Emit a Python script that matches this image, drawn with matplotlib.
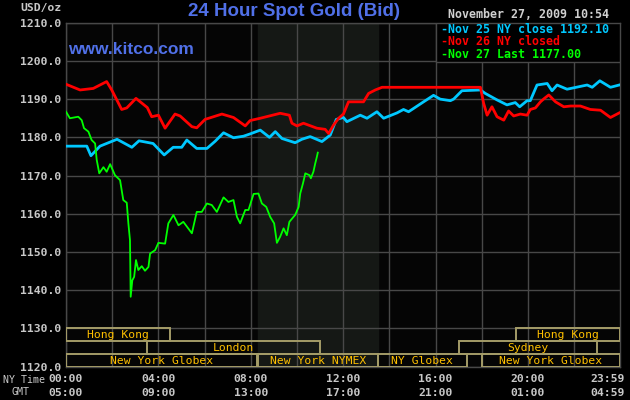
import matplotlib
matplotlib.use("Agg")
import matplotlib.pyplot as plt
from matplotlib.patches import Rectangle
from matplotlib.transforms import blended_transform_factory, offset_copy
import numpy as np

# hours after midnight NY time, price in USD/oz
nov25_hours = [0.0, 0.90, 1.08, 1.47, 2.21, 2.85, 3.16, 3.77, 4.25, 4.64, 5.01, 5.23, 5.66, 6.10,
               6.46, 6.82, 7.25, 7.68, 7.97, 8.41, 8.81, 9.06, 9.35, 9.92, 10.21, 10.57, 11.08,
               11.44, 11.70, 12.01, 12.16, 12.74, 13.03, 13.46, 13.75, 14.33, 14.61, 14.83, 15.48,
               15.91, 16.20, 16.64, 16.78, 17.14, 17.94, 18.15, 18.66, 19.09, 19.45, 19.64, 19.96,
               20.10, 20.39, 20.83, 21.04, 21.26, 21.69, 22.56, 22.78, 23.11, 23.57, 23.95]
nov25_price = [1177.7, 1177.7, 1175.2, 1177.7, 1179.5, 1177.4, 1179.1, 1178.4, 1175.4, 1177.4,
               1177.4, 1179.3, 1177.1, 1177.1, 1179.0, 1181.2, 1179.9, 1180.3, 1180.9, 1181.9,
               1180.0, 1181.5, 1179.7, 1178.6, 1179.5, 1180.2, 1178.9, 1180.6, 1184.7, 1185.2,
               1184.1, 1185.8, 1185.0, 1186.7, 1185.0, 1186.4, 1187.3, 1186.7, 1189.3, 1191.0,
               1190.0, 1189.6, 1190.0, 1192.2, 1192.4, 1191.5, 1189.8, 1188.5, 1189.1, 1188.0,
               1189.6, 1189.6, 1193.7, 1194.1, 1192.2, 1193.7, 1192.6, 1193.7, 1193.1, 1194.8,
               1193.1, 1193.7]

nov26_hours = [0.0, 0.61, 1.18, 1.76, 1.98, 2.41, 2.63, 3.03, 3.52, 3.71, 4.00, 4.29, 4.72, 4.94,
               5.45, 5.66, 6.02, 6.75, 7.25, 7.76, 7.97, 8.41, 9.27, 9.67, 9.78, 10.00, 10.28,
               10.86, 11.22, 11.37, 11.58, 11.80, 12.01, 12.23, 12.88, 13.10, 13.39, 13.68, 17.94,
               18.08, 18.23, 18.44, 18.66, 18.95, 19.16, 19.38, 19.67, 19.96, 20.10, 20.32, 20.54,
               20.71, 20.90, 21.19, 21.55, 21.84, 22.27, 22.70, 23.14, 23.57, 23.95]
nov26_price = [1193.9, 1192.4, 1192.8, 1194.6, 1192.4, 1187.3, 1187.7, 1190.2, 1187.8, 1185.4,
               1185.8, 1182.4, 1186.1, 1185.6, 1182.8, 1182.5, 1184.7, 1186.1, 1185.2, 1183.0,
               1184.4, 1185.0, 1186.3, 1185.8, 1183.7, 1183.0, 1183.7, 1182.4, 1182.1, 1181.0,
               1183.2, 1185.0, 1186.1, 1189.3, 1189.3, 1191.5, 1192.4, 1193.1, 1193.1, 1188.9,
               1185.8, 1188.0, 1185.4, 1184.5, 1186.9, 1185.6, 1186.1, 1185.8, 1187.3, 1187.7,
               1189.3, 1190.2, 1191.1, 1189.3, 1188.0, 1188.2, 1188.2, 1187.3, 1187.1, 1185.2,
               1186.4]

nov27_hours = [0.0, 0.17, 0.53, 0.68, 0.78, 0.97, 1.11, 1.26, 1.33, 1.44, 1.62, 1.76, 1.91, 2.12,
               2.34, 2.48, 2.63, 2.70, 2.77, 2.80, 2.87, 2.95, 3.03, 3.13, 3.28, 3.42, 3.57, 3.64,
               3.86, 4.00, 4.29, 4.43, 4.65, 4.87, 5.08, 5.45, 5.66, 5.88, 6.10, 6.31, 6.53, 6.82,
               7.03, 7.25, 7.40, 7.54, 7.76, 7.90, 8.12, 8.33, 8.48, 8.67, 8.84, 9.01, 9.13, 9.27,
               9.42, 9.56, 9.67, 9.92, 10.07, 10.14, 10.26, 10.36, 10.54, 10.60, 10.71, 10.79,
               10.86, 10.90]
nov27_price = [1186.7, 1185.0, 1185.4, 1184.5, 1182.4, 1181.5, 1179.3, 1178.4, 1174.1, 1170.6,
               1172.2, 1171.0, 1173.0, 1170.1, 1168.8, 1163.6, 1162.9, 1157.5, 1153.1, 1138.3,
               1142.6, 1143.5, 1147.9, 1145.3, 1146.3, 1145.1, 1146.1, 1149.6, 1150.5, 1152.4,
               1152.2, 1157.5, 1159.7, 1157.0, 1157.9, 1154.9, 1160.5, 1160.5, 1162.7, 1162.3,
               1160.5, 1164.3, 1163.1, 1163.6, 1159.2, 1157.5, 1161.0, 1161.0, 1165.2, 1165.3,
               1162.7, 1161.8, 1159.2, 1157.5, 1152.4, 1154.0, 1156.2, 1154.4, 1157.9, 1159.7,
               1161.8, 1165.3, 1168.0, 1170.6, 1170.1, 1169.3, 1171.0, 1173.2, 1174.9, 1176.0]

legend_labels = ["Nov 25 NY close 1192.10", "Nov 26 NY closed", "Nov 27 Last 1177.00"]

# trading sessions: (row, start hour, end hour, name)
session_rows = [2, 2, 1, 1, 0, 0, 0, 0]
session_start = [0.0, 19.5, 3.5, 17.0, 0.0, 8.33, 13.5, 18.0]
session_end = [4.5, 23.98, 11.0, 23.0, 8.25, 13.5, 17.35, 23.98]
session_names = ["Hong Kong", "Hong Kong", "London", "Sydney",
                 "New York Globex", "New York NYMEX", "NY Globex", "New York Globex"]

nymex_open, nymex_close = 8.33, 13.5

tick_hours = [0, 4, 8, 12, 16, 20, 23.983]
ny_labels = ["00:00", "04:00", "08:00", "12:00", "16:00", "20:00", "23:59"]
gmt_labels = ["05:00", "09:00", "13:00", "17:00", "21:00", "01:00", "04:59"]

W, H = 630, 400
GRID = "#484848"
MONO = "DejaVu Sans Mono"
LABEL = "#c8c8c8"
BLUE_TXT = "#5070e8"
SERIES_COLORS = ["#00c8ff", "#ff0000", "#00ff00"]


def fx(px):
    return px / W


def fy(py):
    return 1 - py / H


fig = plt.figure(figsize=(6.3, 4.0), dpi=100, facecolor="black")
ax = fig.add_axes([fx(66), fy(366.7), fx(620) - fx(66), fy(22.7) - fy(366.7)])
ax.set_facecolor("#050505")
ax.set_xlim(0, 23.983)
ax.set_ylim(1120, 1210)

ax.axvspan(nymex_open, nymex_close, color="#151815", zorder=0)
ax.set_xticks(np.arange(0, 24, 2))
ax.set_yticks(np.arange(1120, 1211, 10))
ax.grid(True, color=GRID, linewidth=1.0, zorder=1)
ax.tick_params(length=0, labelbottom=False)
ax.set_yticklabels([f"{v:.1f}" for v in np.arange(1120, 1211, 10)],
                   fontfamily=MONO, fontweight="bold", fontsize=8.2, color=LABEL)
ax.tick_params(axis="y", pad=3.5)
for s in ax.spines.values():
    s.set_color(GRID)
    s.set_linewidth(1.0)

ax.plot(nov25_hours, nov25_price, color=SERIES_COLORS[0], lw=2.0, zorder=4)
ax.plot(nov26_hours, nov26_price, color=SERIES_COLORS[1], lw=2.0, zorder=4)
ax.plot(nov27_hours, nov27_price, color=SERIES_COLORS[2], lw=1.3, zorder=5)

# session boxes along the bottom
row_h = 10 / 3
for row, x0, x1, name in zip(session_rows, session_start, session_end, session_names):
    y0 = 1120 + row * row_h
    ax.add_patch(Rectangle((x0, y0), x1 - x0, row_h, fill=False,
                           edgecolor="#a49c68", lw=1.4, zorder=6))
    ax.text((x0 + x1) / 2, y0 + row_h / 2 - 0.1, name, ha="center", va="center",
            fontfamily=MONO, fontsize=8.2, color="#ffc000", zorder=7)

# legend box top right
ax.add_patch(Rectangle((16.0, 1199.8), 7.98, 10.2, facecolor="black",
                       edgecolor=GRID, lw=1.0, zorder=8))
for i, (lab, c) in enumerate(zip(legend_labels, SERIES_COLORS)):
    fig.text(fx(441), fy(29.5 + i * 12.4), "-" + lab, ha="left", va="center",
             fontfamily=MONO, fontweight="bold", fontsize=8.4, color=c, zorder=9)

# x labels, NY time and GMT rows
tr = blended_transform_factory(ax.transData, fig.transFigure)
for i, (h, ny, gmt) in enumerate(zip(tick_hours, ny_labels, gmt_labels)):
    if i == len(tick_hours) - 1:
        t = offset_copy(tr, fig=fig, x=5, units="dots")
        ha = "right"
    else:
        t = tr
        ha = "center"
    ax.text(h, fy(378.5), ny, transform=t, ha=ha, va="center",
            fontfamily=MONO, fontweight="bold", fontsize=8.2, color=LABEL)
    ax.text(h, fy(393.5), gmt, transform=t, ha=ha, va="center",
            fontfamily=MONO, fontweight="bold", fontsize=8.2, color=LABEL)

fig.text(fx(24), fy(380), "NY Time", ha="center", va="center",
         fontfamily=MONO, fontsize=7.2, color=LABEL)
fig.text(fx(20), fy(392), "GMT", ha="center", va="center",
         fontfamily=MONO, fontsize=7.2, color=LABEL)
fig.text(fx(61.5), fy(8.5), "USD/oz", ha="right", va="center",
         fontfamily=MONO, fontweight="bold", fontsize=8.2, color=LABEL)

fig.text(fx(294.5), fy(11.5), "24 Hour Spot Gold (Bid)", ha="center", va="center",
         fontfamily="Liberation Sans", fontweight="bold", fontsize=13.5, color=BLUE_TXT)
fig.text(fx(68), fy(49), "www.kitco.com", ha="left", va="center",
         fontfamily="Liberation Sans", fontweight="bold", fontsize=12.5, color=BLUE_TXT, zorder=9)
fig.text(fx(608.5), fy(15), "November 27, 2009 10:54", ha="right", va="center",
         fontfamily=MONO, fontweight="bold", fontsize=8.4, color="#d0d0d0")

fig.savefig("out.png", dpi=100, facecolor="black")
